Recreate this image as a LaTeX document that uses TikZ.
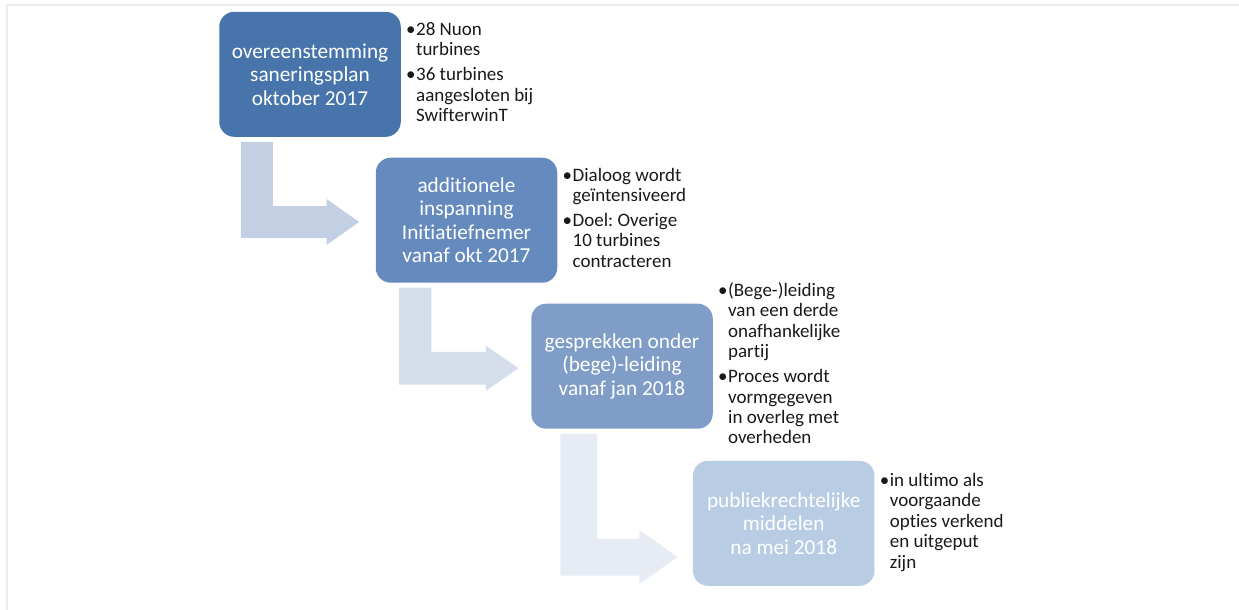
\documentclass[tikz,border=0pt]{standalone}
\usepackage{fontspec}
\setmainfont{Carlito}[Ligatures={NoCommon}]
\usetikzlibrary{calc}
\definecolor{cbox1}{RGB}{71,116,170}
\definecolor{cbox2}{RGB}{101,138,189}
\definecolor{cbox3}{RGB}{127,157,199}
\definecolor{cbox4}{RGB}{184,204,228}
\definecolor{carr1}{RGB}{195,207,226}
\definecolor{carr2}{RGB}{213,220,234}
\definecolor{carr3}{RGB}{231,236,244}
\definecolor{cframe}{RGB}{236,236,236}
\newcommand{\bentarrow}[6]{%
  \fill[#1] let \p1=(#2), \p2=(#3) in
  (\x1,\y1) -- (\x1+2*#4,\y1) -- (\x1+2*#4,\y2+#4) -- (\x2-#6,\y2+#4) --
  (\x2-#6,\y2+#5) -- (\x2,\y2) -- (\x2-#6,\y2-#5) -- (\x2-#6,\y2-#4) --
  (\x1,\y2-#4) -- cycle;}
\newcommand{\bul}{\makebox[10pt][l]{•}}
\frenchspacing
\tikzset{
  stepbox/.style={rounded corners=15pt, minimum width=181.5pt, minimum height=125pt,
    inner sep=0pt, align=center, text=white,
    font=\fontsize{21.3}{23.5}\selectfont},
  bullist/.style={anchor=west, inner sep=0pt, align=left, text=black!90,
    font=\fontsize{19}{20.4}\selectfont},
}
\begin{document}
\begin{tikzpicture}[x=1pt,y=1pt]
\useasboundingbox (0,0) rectangle (1239,-610);
\draw[cframe, line width=1.5pt] (1239,-5) -- (7,-5) -- (7,-610);

\node[stepbox, fill=cbox1] (b1) at (310,-74.3) {overeenstemming\\saneringsplan\\oktober 2017};
\node[stepbox, fill=cbox2] (b2) at (466.5,-220.2) {additionele\\inspanning\\Initiatiefnemer\\vanaf okt 2017};
\node[stepbox, fill=cbox3] (b3) at (622,-366.2) {gesprekken onder\\(bege)-leiding\\vanaf jan 2018};
\node[stepbox, fill=cbox4] (b4) at (783.7,-523.3) {publiekrechtelijke\\middelen\\na mei 2018};

\bentarrow{carr1}{$(b1.south west)+(21.7,-5)$}{$(b2.west)+(-16.4,-1.8)$}{16pt}{23pt}{32.6pt}
\bentarrow{carr2}{$(b2.south west)+(23.3,-4.6)$}{$(b3.west)+(-12.6,-2)$}{16.3pt}{22.7pt}{32.7pt}
\bentarrow{carr3}{$(b3.south west)+(29.2,-4.7)$}{$(b4.west)+(-15.3,-33.7)$}{18.5pt}{27pt}{38pt}

\node[bullist] (l1) at ($(b1.east)+(5,0)$) {\begin{tabular}{@{}l@{}l@{}}
\bul&28 Nuon\\&turbines\\[4.6pt]
\bul&36 turbines\\&aangesloten bij\\&SwifterwinT\end{tabular}};
\node[bullist] (l2) at ($(b2.east)+(5,0)$) {\begin{tabular}{@{}l@{}l@{}}
\bul&Dialoog wordt\\&geïntensiveerd\\[4.6pt]
\bul&Doel: Overige\\&10 turbines\\&contracteren\end{tabular}};
\node[bullist] (l3) at ($(b3.east)+(5,0)$) {\begin{tabular}{@{}l@{}l@{}}
\bul&(Bege-)leiding\\&van een derde\\&onafhankelijke\\&partij\\[4.6pt]
\bul&Proces wordt\\&vormgegeven\\&in overleg met\\&overheden\end{tabular}};
\node[bullist] (l4) at ($(b4.east)+(5,0)$) {\begin{tabular}{@{}l@{}l@{}}
\bul&in ultimo als\\&voorgaande\\&opties verkend\\&en uitgeput\\&zijn\end{tabular}};
\end{tikzpicture}
\end{document}
